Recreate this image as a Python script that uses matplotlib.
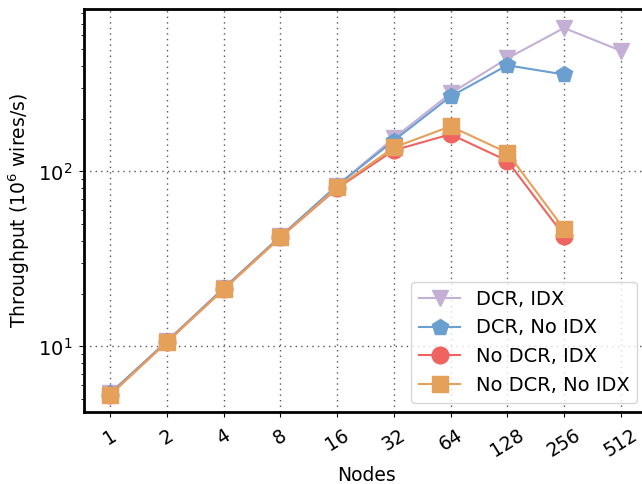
import matplotlib
matplotlib.use("Agg")
import matplotlib.pyplot as plt

nodes = ["1", "2", "4", "8", "16", "32", "64", "128", "256", "512"]

dcr_idx = [5.4, 10.7, 21.5, 42.5, 83, 155, 279, 442, 660, 490]
dcr_no_idx = [5.4, 10.7, 21.5, 42.5, 83, 150, 268, 404, 358]
no_dcr_idx = [5.3, 10.6, 21.2, 42, 80, 132, 163, 115, 43]
no_dcr_no_idx = [5.3, 10.6, 21.2, 42, 81, 137, 181, 128, 47]

series = [
    ("DCR, IDX", dcr_idx, "#c5b0d5", "v"),
    ("DCR, No IDX", dcr_no_idx, "#6a9fd0", "p"),
    ("No DCR, IDX", no_dcr_idx, "#ef6461", "o"),
    ("No DCR, No IDX", no_dcr_no_idx, "#e5a05a", "s"),
]

fig = plt.figure(figsize=(6.42, 4.84), dpi=100)
ax = fig.add_axes([0.131, 0.148, 0.880, 0.833])

for label, values, color, marker in series:
    ax.plot(range(len(values)), values, color=color, marker=marker,
            markersize=12, linewidth=1.5, label=label)

ax.set_yscale("log")
ax.set_xlim(-0.46, 9.5)
ax.set_ylim(4.2, 845)
ax.set_xticks(range(len(nodes)))
ax.set_xticklabels(nodes, rotation=32, fontsize=13.5)
ax.tick_params(axis="x", pad=6)
ax.tick_params(axis="y", labelsize=14, pad=5)
ax.grid(True, which="major", linestyle=(0, (1, 3)), color="#555555", linewidth=1.0)
for sp in ax.spines.values():
    sp.set_linewidth(2)

ax.set_xlabel("Nodes", fontsize=13.5)
ax.set_ylabel("Throughput ($10^6$ wires/s)", fontsize=13.5)
ax.legend(loc="lower right", fontsize=14, bbox_to_anchor=(0.996, 0.0),
          handlelength=2.1)

fig.savefig("out.png", dpi=100)
